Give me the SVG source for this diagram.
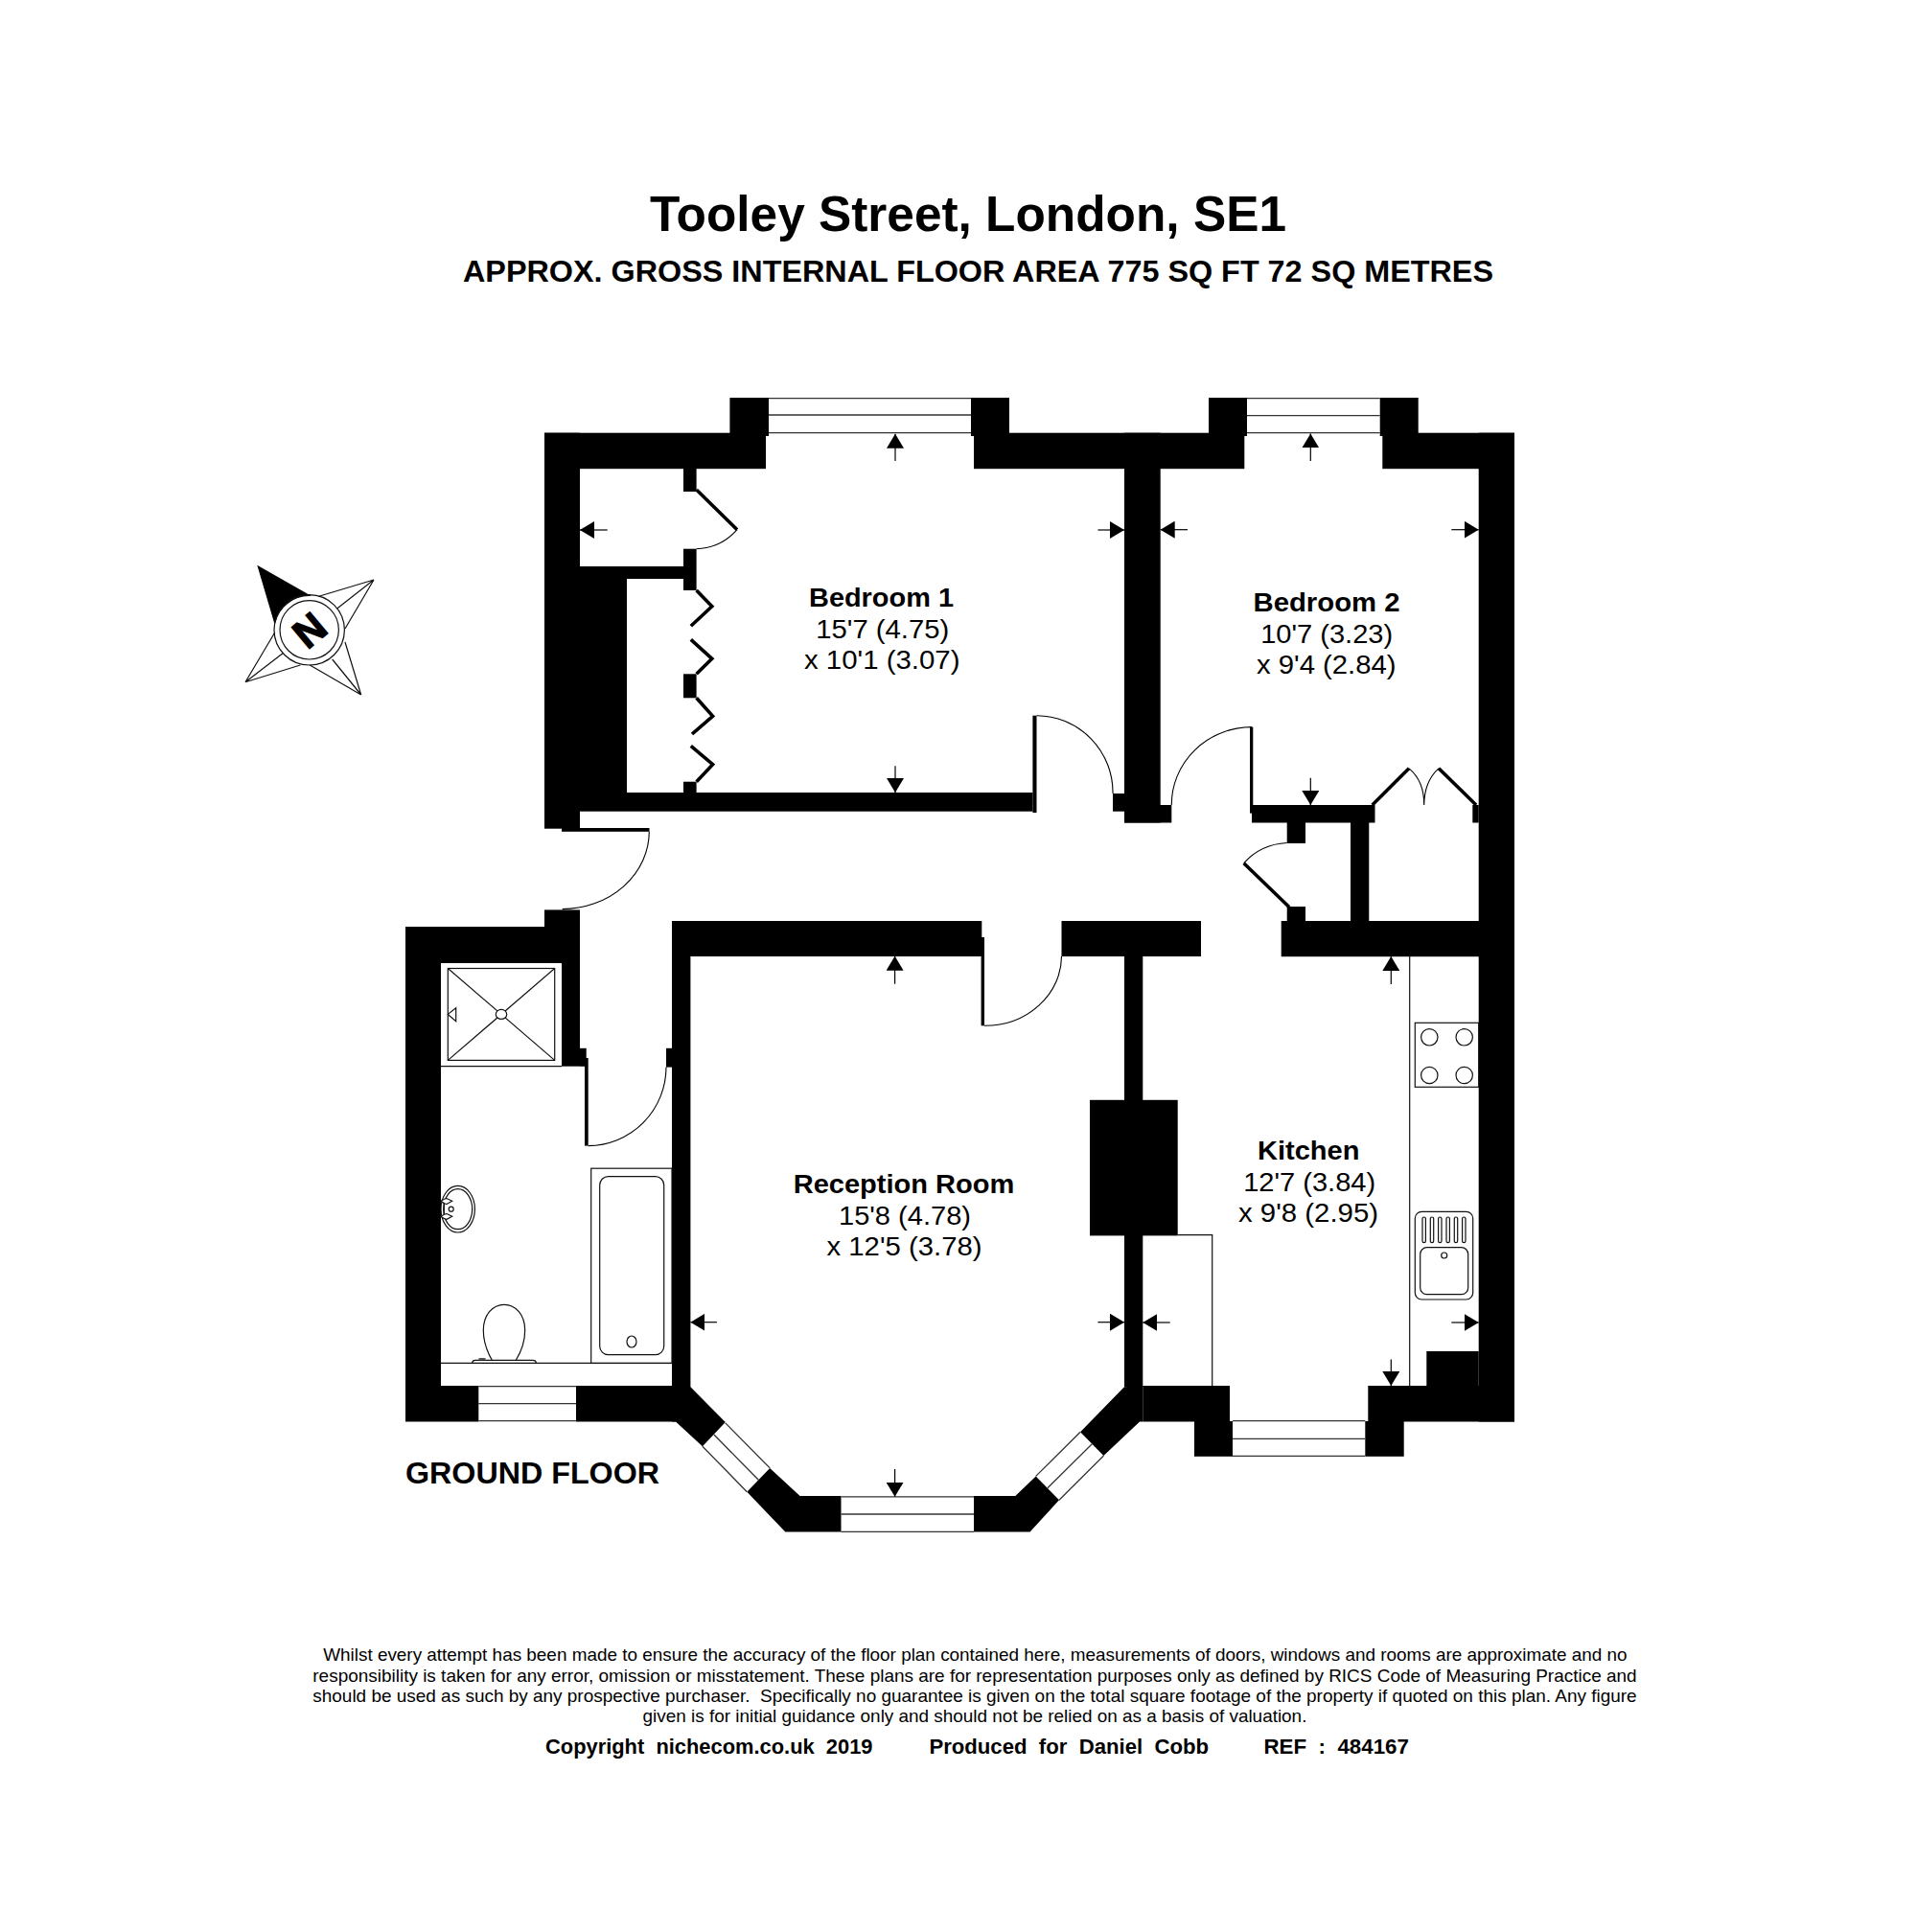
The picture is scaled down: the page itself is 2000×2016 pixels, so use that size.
<svg xmlns="http://www.w3.org/2000/svg" width="2000" height="2016" viewBox="0 0 2000 2016">
<style>
text{font-family:"Liberation Sans",Arial,sans-serif;fill:#000;white-space:pre}
.b{font-weight:700}
.room{font-size:27.5px}
.foot{font-size:18.5px}
.credit{font-size:21.5px;font-weight:700}
.wall{fill:#000;stroke:none}
.leaf{fill:none;stroke:#000;stroke-width:3.6}
.swing{fill:none;stroke:#000;stroke-width:1.1}
.wl{fill:none;stroke:#333;stroke-width:1.3}
.fix{fill:#fff;stroke:#111;stroke-width:1.2}
.nofill{fill:none;stroke:#111;stroke-width:1.2}
.arr{stroke:#000;stroke-width:1.2;marker-end:url(#ah)}
</style>
<defs>
<marker id="ah" markerUnits="userSpaceOnUse" markerWidth="15" markerHeight="18" refX="15" refY="9" orient="auto"><path d="M0,0 L15,9 L0,18 z" fill="#000"/></marker>
</defs>
<rect width="2000" height="2016" fill="#fff"/>

<g id="title">
<text class="b" x="678" y="240.5" font-size="52" textLength="664" lengthAdjust="spacingAndGlyphs">Tooley Street, London, SE1</text>
<text class="b" x="483" y="293.5" font-size="32" textLength="1075" lengthAdjust="spacingAndGlyphs">APPROX. GROSS INTERNAL FLOOR AREA 775 SQ FT 72 SQ METRES</text>
<path d="M1255,294 V299" stroke="#333" stroke-width="1" fill="none"/>
</g>

<g id="compass" fill="none" stroke="#111" stroke-width="1.2">
<path d="M269.3,591 L322.7,621.5 A36.7,36.7 0 0 0 286.7,650 Z" fill="#000" stroke="#000"/>
<path d="M390,605 L332.7,622.3 M390,605 L351.7,635 M390,605 L360,656"/>
<path d="M376.7,725 L360,670 M376.7,725 L346.7,688 M376.7,725 L323.3,694"/>
<path d="M256,711.7 L286.7,660 M256,711.7 L295,681.7 M256,711.7 L313.3,694"/>
<circle cx="322.7" cy="657.3" r="36.7"/>
<circle cx="322.7" cy="657.3" r="30.7"/>
<text class="b" transform="translate(322.7,657.3) rotate(-40)" x="0" y="15" font-size="42" text-anchor="middle" stroke="#000" stroke-width="1.4">N</text>
</g>

<g id="walls">
<rect class="wall" x="568" y="451.7" width="231" height="37.5"/>
<rect class="wall" x="761.4" y="415" width="40.6" height="40"/>
<rect class="wall" x="1013" y="415" width="40" height="40"/>
<rect class="wall" x="1016" y="451.7" width="282.3" height="37.5"/>
<rect class="wall" x="1261" y="415" width="40" height="40"/>
<rect class="wall" x="1439.7" y="415" width="40" height="40"/>
<rect class="wall" x="1442.3" y="451.7" width="137.7" height="37.5"/>
<rect class="wall" x="1542.7" y="451.7" width="37.3" height="1031.8"/>
<rect class="wall" x="1173" y="451.7" width="37.7" height="406.8"/>
<rect class="wall" x="568" y="451.7" width="37" height="413"/>
<rect class="wall" x="586" y="846" width="19" height="21"/>
<rect class="wall" x="605" y="591" width="49" height="236"/>
<rect class="wall" x="605" y="591" width="108" height="13"/>
<rect class="wall" x="713" y="489" width="13.6" height="24"/>
<rect class="wall" x="713" y="572.7" width="13.6" height="43.3"/>
<rect class="wall" x="713" y="703.3" width="13.6" height="25"/>
<rect class="wall" x="713" y="815.7" width="13.6" height="11.5"/>
<rect class="wall" x="605" y="827" width="472.4" height="19.7"/>
<rect class="wall" x="1077.4" y="746.7" width="4.1" height="101.3"/>
<rect class="wall" x="1161" y="828" width="12" height="18.7"/>
<rect class="wall" x="1173" y="840" width="49.3" height="18.5"/>
<rect class="wall" x="1304" y="758.6" width="3.3" height="90"/>
<rect class="wall" x="1306" y="840" width="128.5" height="18.5"/>
<rect class="wall" x="1536.3" y="840" width="6.4" height="18.5"/>
<rect class="wall" x="1342.7" y="858" width="19.3" height="22"/>
<rect class="wall" x="1342.7" y="946" width="19.3" height="15.5"/>
<rect class="wall" x="1409" y="858" width="19.3" height="103"/>
<rect class="wall" x="1336.7" y="961" width="243.3" height="37.2"/>
<rect class="wall" x="701.4" y="961" width="322.9" height="37"/>
<rect class="wall" x="1023.6" y="978" width="3.4" height="92.3"/>
<rect class="wall" x="1107.5" y="961" width="145.5" height="37"/>
<rect class="wall" x="1173" y="998" width="19.3" height="449"/>
<rect class="wall" x="1137" y="1147.8" width="91.7" height="141.6"/>
<rect class="wall" x="1192.3" y="1446" width="90.7" height="37.5"/>
<rect class="wall" x="1246" y="1483" width="40" height="36.8"/>
<rect class="wall" x="1424.3" y="1483" width="40.4" height="36.8"/>
<rect class="wall" x="1427.3" y="1446" width="152.7" height="37.5"/>
<rect class="wall" x="1488.3" y="1410" width="54.4" height="36.5"/>
<rect class="wall" x="701" y="961" width="19.4" height="487"/>
<rect class="wall" x="423" y="967" width="37" height="516.5"/>
<rect class="wall" x="423" y="967" width="163" height="38"/>
<rect class="wall" x="568" y="949.4" width="37" height="55.6"/>
<rect class="wall" x="586" y="1000" width="19" height="112.7"/>
<rect class="wall" x="605" y="1093.8" width="6.7" height="19"/>
<rect class="wall" x="610" y="1104" width="3.7" height="91.6"/>
<rect class="wall" x="695" y="1093.8" width="7" height="19.8"/>
<rect class="wall" x="460" y="1446" width="39.3" height="37.5"/>
<rect class="wall" x="601" y="1446" width="104" height="37.5"/>
<polygon class="wall" points="701,1446 720.4,1447.3 756.8,1484 732.9,1509.2 705,1483.5 701,1483.5"/>
<polygon class="wall" points="803.2,1531.9 834.6,1561 877.5,1561 877.5,1598.6 819.3,1598.6 779.3,1556.7"/>
<polygon class="wall" points="1016,1561 1059.3,1561 1080.7,1540.4 1105,1565.2 1074.6,1598.6 1016,1598.6"/>
<polygon class="wall" points="1127.1,1494.3 1172.9,1447.3 1192.3,1446 1192.3,1483.6 1189,1483.6 1151.4,1519"/>
</g>

<g id="windows" class="wl">
<path d="M802,415.7 H1013 M802,433 H1013 M802,451.7 H1013"/>
<path d="M1301,415.7 H1439.7 M1301,433.7 H1439.7 M1301,451.7 H1439.7"/>
<path d="M1286,1482.7 H1424.3 M1286,1501.4 H1424.3 M1286,1519.3 H1424.3"/>
<path d="M499.3,1446.7 H601 M499.3,1464.7 H601 M499.3,1482.7 H601"/>
<path d="M877.5,1561.8 H1016 M877.5,1580 H1016 M877.5,1598.3 H1016"/>
<path d="M756.8,1484.9 L803.2,1531.9 M744.9,1497 L791.3,1544.3 M732.9,1509.2 L779.3,1556.7"/>
<path d="M1127.1,1494.3 L1080.7,1540.4 M1139.3,1506.7 L1092.9,1552.8 M1151.4,1519 L1105,1565.2"/>
</g>

<g id="doors">
<path class="leaf" d="M726.6,511 L769,552.7"/>
<path class="swing" d="M769,552.7 Q752,572 726.6,572.7"/>
<path class="leaf" d="M726.6,616 L742.8,632.7 L720.8,653.3"/>
<path class="leaf" d="M720.8,667.3 L742.8,687.3 L726.6,703.3"/>
<path class="leaf" d="M726.6,728.3 L743.6,747.3 L722,766"/>
<path class="leaf" d="M720.8,778.3 L743.6,797.7 L726.6,815.7"/>
<path class="swing" d="M1081.5,746.7 A80,80 0 0 1 1161,828"/>
<path class="swing" d="M1222.3,840 A84,81 0 0 1 1306,758.6"/>
<path class="leaf" d="M1431.7,840 L1470,801.8"/>
<path class="leaf" d="M1501,801.8 L1540,840"/>
<path class="swing" d="M1470,801.8 Q1486,815 1485.7,840 Q1486,815 1501,801.8"/>
<path class="leaf" d="M1297.7,900.7 L1345,946.5"/>
<path class="swing" d="M1342.7,879.5 Q1315,881 1297.7,900.7"/>
<rect class="wall" x="586" y="864" width="91.5" height="3.8"/>
<path class="swing" d="M677.3,867.8 A91,81 0 0 1 586.7,948.6"/>
<path class="swing" d="M613.7,1195.6 A82,82 0 0 0 695,1113.6"/>
<path class="swing" d="M1027,1070.3 A80.5,72.6 0 0 0 1107.5,997.7"/>
</g>

<g id="bathroom">
<rect class="nofill" x="467.3" y="1010.5" width="111.4" height="95.9"/>
<path class="nofill" d="M467.3,1010.5 L578.7,1106.4 M578.7,1010.5 L467.3,1106.4"/>
<ellipse class="fix" cx="523" cy="1058.4" rx="5.7" ry="5"/>
<polygon class="nofill" points="467.3,1058.4 475.7,1051.7 475.7,1065.6"/>
<path class="nofill" d="M460,1112.7 H586" stroke="#555"/>
<rect class="nofill" x="616.7" y="1219.2" width="84.3" height="203.3" stroke="#555"/>
<rect class="nofill" x="625.7" y="1227.6" width="67" height="186.1" rx="9"/>
<ellipse class="nofill" cx="659" cy="1400" rx="5" ry="6"/>
<path class="nofill" d="M460,1422.3 H701"/>
<ellipse class="nofill" cx="477.7" cy="1261.7" rx="17.7" ry="24.3"/>
<ellipse class="nofill" cx="477.7" cy="1261.7" rx="15" ry="21"/>
<path class="nofill" d="M463.3,1253.3 V1269.3"/>
<path class="fix" d="M460,1253.3 Q464,1250.5 466,1250.5 L471.7,1253.3 L466,1256.5 Q464,1256.5 460,1253.3 Z"/>
<path class="fix" d="M460,1269.3 Q464,1266.5 466,1266.5 L471.7,1269.3 L466,1272.3 Q464,1272.3 460,1269.3 Z"/>
<circle class="nofill" cx="470.7" cy="1261.7" r="2.5"/>
<path class="nofill" d="M513.3,1419.3 C508,1410 504.3,1400 504.3,1388 C504.3,1372 514,1361.3 526,1361.3 C538,1361.3 547.7,1372 547.7,1388 C547.7,1400 544,1410 538.3,1419.3"/>
<path class="nofill" d="M492.7,1422 Q493,1419.3 496,1419.3 H556 Q559,1419.3 559.3,1422"/>
<rect x="499.5" y="1417" width="7" height="2.2" fill="#555"/>
</g>

<g id="kitchen">
<path class="nofill" d="M1228.7,1288.6 H1264.7 V1446"/>
<path class="nofill" d="M1470.7,998 V1446"/>
<rect class="nofill" x="1476.3" y="1067.3" width="66.4" height="67"/>
<circle class="nofill" cx="1491.3" cy="1082.3" r="8.7"/>
<circle class="nofill" cx="1527.7" cy="1082.3" r="8.7"/>
<circle class="nofill" cx="1491.3" cy="1122" r="8.7"/>
<circle class="nofill" cx="1527.7" cy="1122" r="8.7"/>
<rect class="nofill" x="1476.3" y="1264.3" width="60.4" height="91.7" rx="7"/>
<rect class="nofill" x="1481.7" y="1301.7" width="50" height="49" rx="7"/>
<circle class="nofill" cx="1506.7" cy="1310" r="3"/>
<rect class="nofill" x="1484" y="1270" width="3.4" height="26.7" rx="1.7"/>
<rect class="nofill" x="1492.3" y="1270" width="3.4" height="26.7" rx="1.7"/>
<rect class="nofill" x="1500.6" y="1270" width="3.4" height="26.7" rx="1.7"/>
<rect class="nofill" x="1509" y="1270" width="3.4" height="26.7" rx="1.7"/>
<rect class="nofill" x="1517.3" y="1270" width="3.4" height="26.7" rx="1.7"/>
<rect class="nofill" x="1525.6" y="1270" width="3.4" height="26.7" rx="1.7"/>
</g>

<g id="dimension-arrows">
<line class="arr" x1="934" y1="481" x2="934" y2="452.7"/>
<line class="arr" x1="633.7" y1="553" x2="605" y2="553"/>
<line class="arr" x1="1145.4" y1="553" x2="1173" y2="553"/>
<line class="arr" x1="934" y1="799.3" x2="934" y2="827"/>
<line class="arr" x1="1367.3" y1="481" x2="1367.3" y2="452.4"/>
<line class="arr" x1="1239" y1="552.7" x2="1210.7" y2="552.7"/>
<line class="arr" x1="1514.3" y1="552.7" x2="1542.7" y2="552.7"/>
<line class="arr" x1="1367.3" y1="811.8" x2="1367.3" y2="840"/>
<line class="arr" x1="933.6" y1="1026.8" x2="933.6" y2="997.7"/>
<line class="arr" x1="747.9" y1="1379.7" x2="720.4" y2="1379.7"/>
<line class="arr" x1="1145.4" y1="1379.7" x2="1173" y2="1379.7"/>
<line class="arr" x1="933.6" y1="1533" x2="933.6" y2="1561.8"/>
<line class="arr" x1="1451.3" y1="1027" x2="1451.3" y2="998"/>
<line class="arr" x1="1220.7" y1="1380" x2="1192.3" y2="1380"/>
<line class="arr" x1="1514.3" y1="1380" x2="1542.7" y2="1380"/>
<line class="arr" x1="1451.3" y1="1418.4" x2="1451.3" y2="1446"/>
</g>

<g id="room-bedroom-1">
<text class="room b" x="844" y="633.3" textLength="151" lengthAdjust="spacingAndGlyphs">Bedroom 1</text>
<text class="room" x="851.3" y="665.7" textLength="139" lengthAdjust="spacingAndGlyphs">15'7 (4.75)</text>
<text class="room" x="839" y="698.3" textLength="162.5" lengthAdjust="spacingAndGlyphs">x 10'1 (3.07)</text>
</g>
<g id="room-bedroom-2">
<text class="room b" x="1307.5" y="638.4" textLength="153" lengthAdjust="spacingAndGlyphs">Bedroom 2</text>
<text class="room" x="1315.2" y="671" textLength="138" lengthAdjust="spacingAndGlyphs">10'7 (3.23)</text>
<text class="room" x="1311" y="703" textLength="145.5" lengthAdjust="spacingAndGlyphs">x 9'4 (2.84)</text>
</g>
<g id="room-reception">
<text class="room b" x="827.7" y="1244.6" textLength="230.7" lengthAdjust="spacingAndGlyphs">Reception Room</text>
<text class="room" x="875" y="1277.5" textLength="138" lengthAdjust="spacingAndGlyphs">15'8 (4.78)</text>
<text class="room" x="862.5" y="1310" textLength="162" lengthAdjust="spacingAndGlyphs">x 12'5 (3.78)</text>
</g>
<g id="room-kitchen">
<text class="room b" x="1312" y="1210" textLength="106.5" lengthAdjust="spacingAndGlyphs">Kitchen</text>
<text class="room" x="1297.2" y="1242.5" textLength="138" lengthAdjust="spacingAndGlyphs">12'7 (3.84)</text>
<text class="room" x="1292" y="1274.6" textLength="146" lengthAdjust="spacingAndGlyphs">x 9'8 (2.95)</text>
</g>

<g id="floor-label">
<text class="b" x="423" y="1547.5" font-size="32" textLength="265" lengthAdjust="spacingAndGlyphs">GROUND FLOOR</text>
</g>

<g id="footer">
<text class="foot" x="337.2" y="1732.8" textLength="1360.4" lengthAdjust="spacingAndGlyphs">Whilst every attempt has been made to ensure the accuracy of the floor plan contained here, measurements of doors, windows and rooms are approximate and no</text>
<text class="foot" x="326.3" y="1754.5" textLength="1381.3" lengthAdjust="spacingAndGlyphs">responsibility is taken for any error, omission or misstatement. These plans are for representation purposes only as defined by RICS Code of Measuring Practice and</text>
<text class="foot" x="326.3" y="1776.2" textLength="1381.3" lengthAdjust="spacingAndGlyphs">should be used as such by any prospective purchaser.  Specifically no guarantee is given on the total square footage of the property if quoted on this plan. Any figure</text>
<text class="foot" x="670.5" y="1797.2" textLength="692.9" lengthAdjust="spacingAndGlyphs">given is for initial guidance only and should not be relied on as a basis of valuation.</text>
<text class="credit" x="569" y="1830" textLength="341.5" lengthAdjust="spacingAndGlyphs">Copyright  nichecom.co.uk  2019</text>
<text class="credit" x="969.4" y="1830" textLength="291.6" lengthAdjust="spacingAndGlyphs">Produced  for  Daniel  Cobb</text>
<text class="credit" x="1318.5" y="1830" textLength="151.4" lengthAdjust="spacingAndGlyphs">REF  :  484167</text>
</g>
</svg>
